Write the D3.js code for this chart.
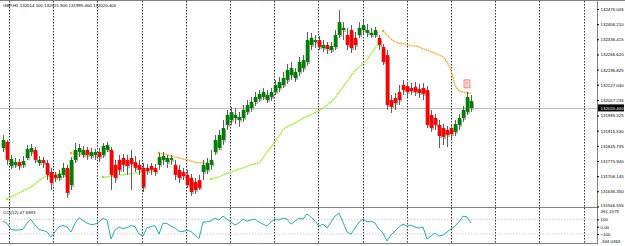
<!DOCTYPE html>
<html>
<head>
<meta charset="utf-8">
<script src="https://cdn.jsdelivr.net/npm/d3@7"></script>
<style>
  html, body { margin: 0; padding: 0; background: #fff; }
  svg { display: block; }
  text { font-family: "Liberation Sans", Arial, sans-serif; }
</style>
</head>
<body>
<div id="chart"></div>
<script>
// chart data (GBP, H1)
const header = "GBP,H1  132014.100 132021.900 131995.400 132020.400";
const lastPrice = 132020.400;

const opens = [131836,131864,131753,131758,131771,131758,131790,131817,131827,131767,131781,131767,131725,131712,131698,131712,131744,131665,131781,131817,
  131804,131827,131799,131804,131817,131804,131827,131827,131758,131781,131790,131781,131790,131771,131758,131744,131744,131753,131744,131758,
  131781,131771,131781,131758,131735,131725,131712,131698,131679,131688,131725,131735,131758,131817,131836,131873,131942,131965,131974,131965,
  131974,132002,132020,132048,132062,132071,132057,132071,132094,132112,132126,132149,132172,132158,132186,132204,132232,132310,132324,132333,
  132296,132310,132287,132301,132356,132379,132356,132379,132343,132356,132379,132366,132356,132356,132343,132301,132264,132057,132066,132094,
  132126,132121,132112,132117,132108,132112,132103,131988,131974,131942,131928,131919,131928,131910,131942,131974,132002,132020];
const closes = [131873,131781,131785,131771,131753,131776,131831,131836,131781,131781,131767,131712,131675,131698,131716,131744,131629,131781,131827,131836,
  131827,131804,131817,131817,131794,131845,131850,131712,131698,131735,131758,131753,131762,131744,131735,131656,131730,131735,131725,131794,
  131799,131790,131790,131712,131698,131707,131665,131633,131642,131652,131758,131767,131781,131873,131896,131928,131988,132002,131988,131979,
  132011,132034,132048,132071,132085,132094,132080,132094,132126,132140,132158,132195,132204,132186,132232,132241,132333,132343,132333,132301,
  132310,132292,132306,132356,132416,132389,132310,132296,132310,132389,132402,132379,132366,132379,132310,132232,132034,132025,132043,132057,
  132103,132094,132098,132094,132089,132085,131942,131928,131942,131891,131887,131896,131900,131946,131974,132011,132071,132052];
const highs = [131896,131873,131804,131790,131785,131799,131850,131854,131840,131799,131794,131781,131744,131725,131735,131767,131758,131794,131859,131854,
  131845,131840,131836,131831,131836,131859,131864,131840,131781,131804,131808,131804,131827,131799,131781,131767,131762,131767,131762,131813,
  131817,131804,131804,131781,131758,131744,131735,131716,131698,131712,131781,131790,131827,131896,131919,131965,132011,132025,132020,132002,
  132034,132057,132071,132094,132103,132112,132103,132112,132149,132163,132186,132223,132232,132204,132255,132264,132370,132366,132356,132352,
  132333,132324,132324,132379,132471,132416,132389,132402,132370,132416,132425,132407,132389,132393,132356,132315,132287,132080,132089,132126,
  132149,132140,132135,132140,132131,132135,132121,132011,131992,131965,131946,131937,131946,131965,131992,132029,132094,132080];
const lows = [131817,131758,131739,131744,131735,131744,131781,131799,131767,131753,131744,131688,131642,131679,131684,131698,131606,131642,131767,131794,
  131790,131781,131785,131781,131771,131790,131817,131642,131675,131712,131725,131712,131642,131725,131712,131633,131712,131712,131707,131735,
  131758,131744,131758,131688,131675,131688,131652,131615,131624,131642,131688,131716,131735,131804,131827,131850,131919,131942,131946,131933,
  131956,131988,132002,132029,132048,132057,132043,132052,132080,132094,132112,132131,132149,132140,132167,132186,132214,132287,132296,132287,
  132278,132269,132273,132287,132343,132333,132287,132273,132287,132343,132356,132347,132343,132343,132287,132218,132011,131997,132011,132034,
  132080,132071,132080,132075,132066,132057,131928,131910,131919,131836,131850,131840,131873,131891,131919,131956,131988,132002];

// trailing line segments (start bar index + values)
const greenLine = [
  { start: 1, vals: [131601,131610,131619,131629,131638,131647,131656,131670,131684,131698,131707,131712,131716,131716,131721,131721] },
  { start: 25, vals: [131702,131702,131707,131707,131712,131712,131716,131716,131721,131721,131725,131725,131730,131730] },
  { start: 52, vals: [131693,131698,131702,131712,131718,131725,131732,131739,131744,131751,131758,131762,131767,131790,131817,131840,131864,131891,131919,131933,
    131942,131951,131962,131972,131981,131990,131999,132006,132020,132034,132048,132066,132091,132117,132142,132167,132191,132209,132227,132241,
    132269,132296,132315,132324] }
];
const orangeLine = [
  { start: 17, vals: [131813,131808,131804,131804,131799,131799,131799,131794] },
  { start: 39, vals: [131813,131808,131804,131799,131794,131790,131785,131781,131776,131771,131767,131767,131767] },
  { start: 95, vals: [132375,132356,132338,132324,132319,132317,132310,132306,132306,132301,132292,132287,132278,132273,132264,132255,132232,132195,132126,132098,
    132094,132089,132089] }
];
const alertBar = 116, alertPrice = 132131;

const priceTicks = [132476.005,132406.210,132336.415,132266.620,132196.825,132127.030,132057.235,131985.325,
  131915.530,131845.735,131775.940,131706.145,131636.350,131566.555];

// CCI(12)
const cci = [76,45,-39,-46,-44,-37,49,97,22,-39,-53,-69,-141,-69,1,15,-3,-73,45,124,
  83,49,29,35,63,113,90,-169,-46,-5,-26,-12,15,-1,-101,-128,-12,1,15,-101,
  49,42,8,-19,-60,-69,-46,-67,-114,-162,63,67,76,117,90,144,103,63,22,49,
  103,76,90,103,63,35,8,63,103,90,117,103,35,76,117,103,171,131,76,8,
  35,-19,63,144,185,63,-73,-101,-19,63,103,63,76,49,-33,-87,-196,-114,-60,-5,
  35,8,22,-5,-19,-5,-169,-128,-87,-128,-114,-73,-33,8,63,144,131,47.69];
const cciLevels = [100, 0, -100];
const cciMax = 261.1579, cciMin = -344.0363;
const cciTitle = "CCI(12) 47.6933";

const W = 625, H = 246;
const plotR = 597, mainB = 207, subT = 208, subB = 243;
const fs = 4.4;

const svg = d3.select("#chart").append("svg").attr("width", W).attr("height", H);
svg.append("rect").attr("width", W).attr("height", H).attr("fill", "#fff");

const x = d3.scaleLinear().domain([0, closes.length - 1]).range([3, 471]);
const y = d3.scaleLinear().domain([131563.9, 132517.5]).range([mainB, 0]);
const yc = d3.scaleLinear().domain([-222, 254]).range([subB, subT]);

// vertical dashed grid
svg.append("g").selectAll("line").data(d3.range(9, plotR, 44.2)).join("line")
  .attr("x1", d => Math.round(d) + 0.5).attr("x2", d => Math.round(d) + 0.5)
  .attr("y1", 1).attr("y2", subB)
  .attr("stroke", "#000").attr("stroke-width", 0.8).attr("stroke-dasharray", "1.5,1.5");

// current price line
svg.append("line").attr("x1", 0).attr("x2", plotR).attr("y1", Math.round(y(lastPrice)) + 0.5).attr("y2", Math.round(y(lastPrice)) + 0.5)
  .attr("stroke", "#c0c0c0").attr("stroke-width", 1);

// cci levels
svg.append("g").selectAll("line").data([100, -100]).join("line")
  .attr("x1", 0).attr("x2", plotR).attr("y1", d => yc(d)).attr("y2", d => yc(d))
  .attr("stroke", "#c0c0c0").attr("stroke-width", 0.8).attr("stroke-dasharray", "1.5,1.5");

// trailing lines
const segLine = d3.line().x(d => x(d[0])).y(d => y(d[1]));
function drawSegs(segs, color) {
  segs.forEach(s => {
    const pts = s.vals.map((v, k) => [s.start + k, v]);
    svg.append("path").attr("d", segLine(pts)).attr("fill", "none")
      .attr("stroke", color).attr("stroke-width", 1.3).attr("stroke-dasharray", "1.6,0.6");
    svg.append("circle").attr("cx", x(pts[0][0])).attr("cy", y(pts[0][1])).attr("r", 1.2).attr("fill", color);
  });
}
drawSegs(greenLine, "#8cf518");
drawSegs(orangeLine, "#ffa31a");

// candles
const bars = closes.map((c, i) => ({ i, o: opens[i], h: highs[i], l: lows[i], c }));
const cg = svg.append("g");
cg.selectAll("line").data(bars).join("line")
  .attr("x1", d => x(d.i) + 0.5).attr("x2", d => x(d.i) + 0.5)
  .attr("y1", d => y(d.h)).attr("y2", d => y(d.l))
  .attr("stroke", "#5e5e5e").attr("stroke-width", 1);
cg.selectAll("rect.ghost").data(bars).join("rect").attr("class", "ghost")
  .attr("x", d => x(d.i) + 1.2).attr("width", 1.8)
  .attr("y", d => y(Math.max(d.o, d.c)) + 2).attr("height", d => Math.max(1, Math.abs(y(d.o) - y(d.c))))
  .attr("fill", "#b4b4b4");
cg.selectAll("rect.body").data(bars).join("rect").attr("class", "body")
  .attr("x", d => x(d.i) - 1.3).attr("width", 3.6)
  .attr("y", d => y(Math.max(d.o, d.c))).attr("height", d => Math.max(1.8, Math.abs(y(d.o) - y(d.c))))
  .attr("fill", d => d.c >= d.o ? "#008000" : "#ff0000");

// alert marker
svg.append("rect").attr("x", x(alertBar) - 3).attr("y", y(alertPrice) - 4).attr("width", 6).attr("height", 8)
  .attr("fill", "#ffd8d8").attr("stroke", "#f06060").attr("stroke-width", 0.7);
svg.append("text").attr("x", x(alertBar)).attr("y", y(alertPrice) + 2.5).attr("text-anchor", "middle")
  .attr("font-size", 6).attr("fill", "#e03030").text("!");

// cci line
svg.append("path").datum(cci)
  .attr("d", d3.line().x((d, i) => x(i)).y(d => yc(d)))
  .attr("fill", "none").attr("stroke", "#20b2aa").attr("stroke-width", 1);

// borders
svg.append("line").attr("x1", 0).attr("x2", W).attr("y1", 0.5).attr("y2", 0.5).attr("stroke", "#808080");
svg.append("line").attr("x1", plotR + 0.5).attr("x2", plotR + 0.5).attr("y1", 0).attr("y2", subB + 1).attr("stroke", "#808080");
svg.append("line").attr("x1", 0).attr("x2", plotR).attr("y1", mainB + 0.5).attr("y2", mainB + 0.5).attr("stroke", "#808080");
svg.append("line").attr("x1", 0).attr("x2", plotR).attr("y1", subB + 0.5).attr("y2", subB + 0.5).attr("stroke", "#808080");

// price axis
const pa = svg.append("g").attr("transform", `translate(${plotR},0)`)
  .call(d3.axisRight(y).tickValues(priceTicks).tickFormat(d => d.toFixed(3)).tickSize(2).tickPadding(1.5));
pa.select(".domain").remove();
pa.selectAll("text").attr("font-size", fs).attr("fill", "#000").style("font-family", "Liberation Sans, Arial, sans-serif");
pa.selectAll("line").attr("stroke", "#000");
pa.selectAll(".tick").filter(d => d === priceTicks[priceTicks.length - 1]).select("text").attr("dy", "0.1em");

// last price box
svg.append("rect").attr("x", plotR + 1).attr("y", y(lastPrice) - 3.5).attr("width", W - plotR - 2).attr("height", 7).attr("fill", "#000");
svg.append("text").attr("x", plotR + 3.5).attr("y", y(lastPrice) + 1.6).attr("font-size", fs).attr("fill", "#fff").text(lastPrice.toFixed(3));

// cci axis
const ca = svg.append("g").attr("transform", `translate(${plotR},0)`)
  .call(d3.axisRight(yc).tickValues(cciLevels).tickFormat(d => d === 0 ? "0.00" : d3.format("d")(d)).tickSize(2).tickPadding(1.5));
ca.select(".domain").remove();
ca.selectAll("text").attr("font-size", fs).attr("fill", "#000").style("font-family", "Liberation Sans, Arial, sans-serif");
ca.selectAll("line").attr("stroke", "#000");
svg.append("text").attr("x", plotR + 3.5).attr("y", subT + 5).attr("font-size", fs).text(cciMax.toFixed(4));
svg.append("text").attr("x", plotR + 3.5).attr("y", subB - 0.3).attr("font-size", fs).text(cciMin.toFixed(4));

// titles
svg.append("text").attr("x", 3).attr("y", 7).attr("font-size", fs).attr("fill", "#000").text(header);
svg.append("text").attr("x", 3).attr("y", subT + 6).attr("font-size", fs).attr("fill", "#000").text(cciTitle);
</script>
</body>
</html>
